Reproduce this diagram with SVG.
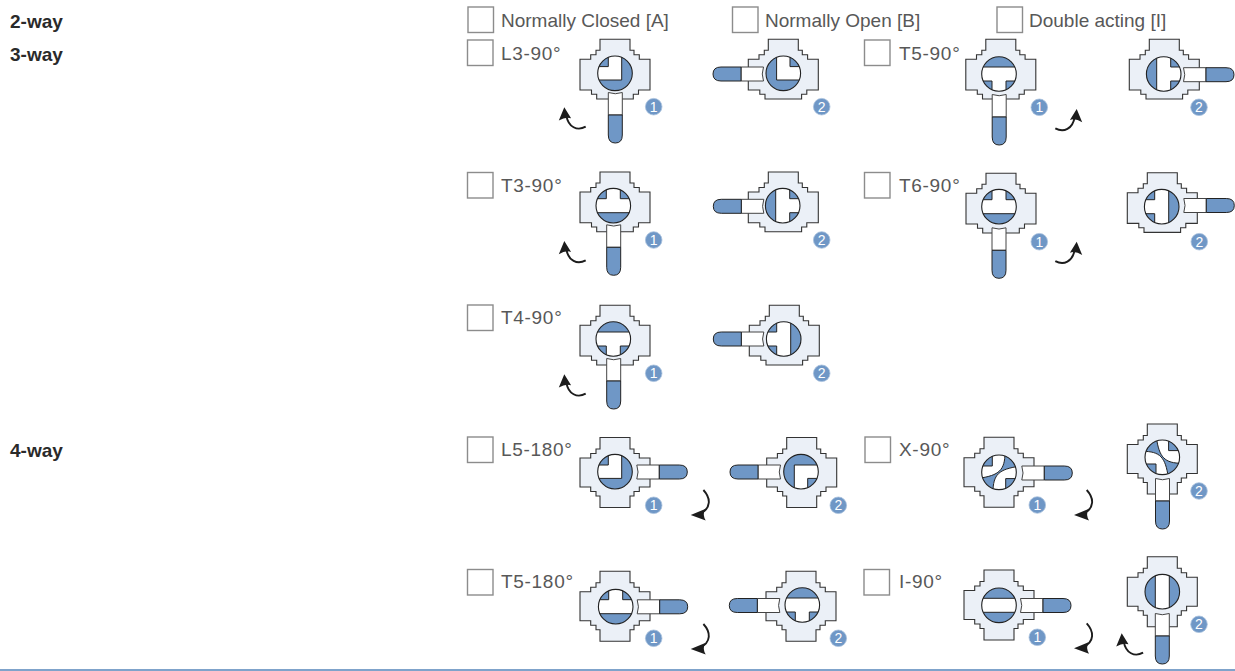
<svg xmlns="http://www.w3.org/2000/svg" xmlns:xlink="http://www.w3.org/1999/xlink" width="1235" height="671" viewBox="0 0 1235 671">
<style>
text{font-family:"Liberation Sans",Arial,sans-serif}
.h{font-size:19px;font-weight:bold;fill:#2a2a2a}
.l{font-size:19px;fill:#585858}
.s{font-size:19px;fill:#585858;letter-spacing:.7px}
.c{fill:#fff;stroke:#8c8c8c;stroke-width:1.4}
.body{fill:#ebf0f7;stroke:#333;stroke-width:1.1}
.blue{fill:#6f97c6}
.ln{stroke:#222;stroke-width:1.1;fill:none}
.wh{fill:#fff;stroke:#222;stroke-width:1}
.bd{fill:#6f97c6;stroke:#a9c1dd;stroke-width:.8}
.n{font-size:14px;fill:#fff;text-anchor:middle}
.ar{fill:none;stroke:#1c1c1c;stroke-width:1.9}
.hd{fill:#1c1c1c}
</style>
<defs>
<clipPath id="cp"><circle r="17.3"/></clipPath>
<path id="b4" class="body" d="M-15,-35V-23.5H-19V-19H-24.3V-14.5H-35V14.5H-24.3V19H-19V23.5H-15V35H15V23.5H19V19H24.3V14.5H35V-14.5H24.3V-19H19V-23.5H15V-35Z"/>
<path id="b3" class="body" d="M-15,-34V-23H-19V-18.5H-24.3V-14H-35V16.7H-23.5V21H-18.3V25.7H18.3V21H23.5V16.7H35V-14H24.3V-18.5H19V-23H15V-34Z"/>
<g id="hnd">
<path fill="#fff" stroke="#444" stroke-width="1" d="M-7,19.5A21,21 0 0 0 7,19.5V42H-7Z"/>
<path class="blue" stroke="#222" stroke-width="1" d="M-7,42V62Q-7,70 0,70Q7,70 7,62V42Z"/>
</g>
<g id="bL"><circle r="17.3" class="blue"/><g clip-path="url(#cp)"><path class="wh" d="M-20,-6.7H-6.7V-20H6.7V6.7H-20Z"/></g><circle r="17.3" class="ln"/></g>
<g id="bT"><circle r="17.3" class="blue"/><g clip-path="url(#cp)"><path class="wh" d="M-20,-7H20V7H7V20H-7V7H-20Z"/></g><circle r="17.3" class="ln"/></g>
<g id="bI"><circle r="17.3" class="blue"/><g clip-path="url(#cp)"><rect class="wh" x="-20" y="-7" width="40" height="14"/></g><circle r="17.3" class="ln"/></g>
<g id="bX"><circle r="17.3" class="blue"/><g clip-path="url(#cp)"><path class="wh" d="M-20,-6.3H-6.7V-20H6C6,-2 0,3 -20,6Z"/><path class="wh" d="M20,6.3H6.7V20H-6C-6,2 0,-3 20,-6Z"/></g><circle r="17.3" class="ln"/></g>
<g id="aU"><path class="ar" d="M21.4,19.4C13,24 4,20 2,8"/><path class="hd" d="M0,0L6.8,11Q1.5,9 -5.5,13.2Z"/></g>
<g id="aD"><path class="ar" d="M12.7,-25C20,-17 21,-7 9,-1"/><path class="hd" d="M0,0L14.5,-6Q11.5,-0.5 15,5.5Z"/></g>
</defs>
<g id="labels">
<text class="h" x="10" y="27.5">2-way</text>
<text class="h" x="10" y="61">3-way</text>
<text class="h" x="10" y="457">4-way</text>
<rect class="c" x="468" y="7" width="25.5" height="25.5"/><text class="l" x="501" y="27">Normally Closed [A]</text>
<rect class="c" x="732.5" y="7" width="25.5" height="25.5"/><text class="l" x="765" y="27">Normally Open [B]</text>
<rect class="c" x="997" y="7" width="25.5" height="25.5"/><text class="l" x="1029" y="27">Double acting [I]</text>
</g>
<g id="L3-90"><rect class="c" x="467.5" y="40" width="25.5" height="25.5"/><text class="s" x="501" y="60">L3-90°</text>
<use href="#b3" transform="translate(615,73.3)"/><use href="#hnd" transform="translate(615.3,73)"/><use href="#bL" transform="translate(615,73.3)"/>
<circle class="bd" cx="653.7" cy="106.7" r="8.3"/><text class="n" x="653.7" y="111.5">1</text>
<use href="#b3" transform="translate(783.3,73.3)"/><use href="#hnd" transform="translate(783,74) rotate(90)"/><use href="#bL" transform="translate(783.3,73.3) rotate(90)"/>
<circle class="bd" cx="821.7" cy="106.7" r="8.3"/><text class="n" x="821.7" y="111.5">2</text></g>
<g id="T5-90"><rect class="c" x="864.5" y="40" width="25.5" height="25.5"/><text class="s" x="899" y="60">T5-90°</text>
<use href="#b3" transform="translate(1000.8,73.3)"/><use href="#hnd" transform="translate(999.2,75)"/><use href="#bT" transform="translate(999,74)"/>
<circle class="bd" cx="1039.3" cy="107.3" r="8.3"/><text class="n" x="1039.3" y="112.1">1</text>
<use href="#b3" transform="translate(1164.3,73.3)"/><use href="#hnd" transform="translate(1164,74.7) rotate(-90)"/><use href="#bT" transform="translate(1163.7,74) rotate(-90)"/>
<circle class="bd" cx="1199" cy="107.3" r="8.3"/><text class="n" x="1199" y="112.1">2</text></g>
<g id="T3-90"><rect class="c" x="467.5" y="172.5" width="25.5" height="25.5"/><text class="s" x="501" y="192">T3-90°</text>
<use href="#b3" transform="translate(615,206)"/><use href="#hnd" transform="translate(613.7,205.3)"/><use href="#bT" transform="translate(613.3,205.7) rotate(180)"/>
<circle class="bd" cx="653.7" cy="240" r="8.3"/><text class="n" x="653.7" y="244.8">1</text>
<use href="#b3" transform="translate(783.3,206)"/><use href="#hnd" transform="translate(783.3,206.3) rotate(90)"/><use href="#bT" transform="translate(782.7,205.7) rotate(-90)"/>
<circle class="bd" cx="821.7" cy="240" r="8.3"/><text class="n" x="821.7" y="244.8">2</text></g>
<g id="T6-90"><rect class="c" x="864.5" y="172.5" width="25.5" height="25.5"/><text class="s" x="899" y="192">T6-90°</text>
<use href="#b3" transform="translate(1001,207.3)"/><use href="#hnd" transform="translate(999,208.3)"/><use href="#bT" transform="translate(999,206.7) rotate(180)"/>
<circle class="bd" cx="1039.3" cy="241.7" r="8.3"/><text class="n" x="1039.3" y="246.5">1</text>
<use href="#b3" transform="translate(1162.3,206.7)"/><use href="#hnd" transform="translate(1164.3,205.5) rotate(-90)"/><use href="#bT" transform="translate(1161.7,206.7) rotate(90)"/>
<circle class="bd" cx="1199.3" cy="241.7" r="8.3"/><text class="n" x="1199.3" y="246.5">2</text></g>
<g id="T4-90"><rect class="c" x="467.5" y="305" width="25.5" height="25.5"/><text class="s" x="501" y="324">T4-90°</text>
<use href="#b3" transform="translate(615,339.3)"/><use href="#hnd" transform="translate(613.7,339)"/><use href="#bT" transform="translate(613.3,339)"/>
<circle class="bd" cx="653.7" cy="373.3" r="8.3"/><text class="n" x="653.7" y="378.1">1</text>
<use href="#b3" transform="translate(784.3,339.3)"/><use href="#hnd" transform="translate(783.3,339) rotate(90)"/><use href="#bT" transform="translate(783.7,339) rotate(90)"/>
<circle class="bd" cx="821.7" cy="373.3" r="8.3"/><text class="n" x="821.7" y="378.1">2</text></g>
<g id="L5-180"><rect class="c" x="467.5" y="437" width="25.5" height="25.5"/><text class="s" x="501" y="456">L5-180°</text>
<use href="#b4" transform="translate(615,472.5)"/><use href="#hnd" transform="translate(617.3,472) rotate(-90)"/><use href="#bL" transform="translate(615,471.7)"/>
<circle class="bd" cx="653.7" cy="505.3" r="8.3"/><text class="n" x="653.7" y="510.1">1</text>
<use href="#b4" transform="translate(801.7,472.5)"/><use href="#hnd" transform="translate(800,472) rotate(90)"/><use href="#bL" transform="translate(801,471.7) rotate(180)"/>
<circle class="bd" cx="838.3" cy="505.3" r="8.3"/><text class="n" x="838.3" y="510.1">2</text></g>
<g id="X-90"><rect class="c" x="865" y="437" width="25.5" height="25.5"/><text class="s" x="899" y="456">X-90°</text>
<use href="#b4" transform="translate(999,472.3)"/><use href="#hnd" transform="translate(1002.3,473) rotate(-90)"/><use href="#bX" transform="translate(999,472.3)"/>
<circle class="bd" cx="1037.3" cy="505" r="8.3"/><text class="n" x="1037.3" y="509.8">1</text>
<use href="#b4" transform="translate(1162.3,459)"/><use href="#hnd" transform="translate(1162.5,459)"/><use href="#bX" transform="translate(1162.3,457.3) rotate(90)"/>
<circle class="bd" cx="1199" cy="491" r="8.3"/><text class="n" x="1199" y="495.8">2</text></g>
<g id="T5-180"><rect class="c" x="467.5" y="569.5" width="25.5" height="25.5"/><text class="s" x="501" y="588">T5-180°</text>
<use href="#b4" transform="translate(615,606.3)"/><use href="#hnd" transform="translate(617.7,606.8) rotate(-90)"/><use href="#bT" transform="translate(615.7,606.7) rotate(180)"/>
<circle class="bd" cx="653.7" cy="638.3" r="8.3"/><text class="n" x="653.7" y="643.1">1</text>
<use href="#b4" transform="translate(801,606.3)"/><use href="#hnd" transform="translate(799.3,605.5) rotate(90)"/><use href="#bT" transform="translate(802.3,605)"/>
<circle class="bd" cx="838.3" cy="638.3" r="8.3"/><text class="n" x="838.3" y="643.1">2</text></g>
<g id="I-90"><rect class="c" x="864" y="569.5" width="25.5" height="25.5"/><text class="s" x="899" y="588">I-90°</text>
<use href="#b4" transform="translate(999,605)"/><use href="#hnd" transform="translate(1001,605.5) rotate(-90)"/><use href="#bI" transform="translate(999,605.3)"/>
<circle class="bd" cx="1037.3" cy="637.3" r="8.3"/><text class="n" x="1037.3" y="642.1">1</text>
<use href="#b4" transform="translate(1162.3,591.7)"/><use href="#hnd" transform="translate(1162.3,594)"/><use href="#bI" transform="translate(1162.3,591.7) rotate(90)"/>
<circle class="bd" cx="1199" cy="624.3" r="8.3"/><text class="n" x="1199" y="629.1">2</text></g>
<g id="connectors">
<use href="#aU" transform="translate(564.3,107.3)"/>
<use href="#aU" transform="translate(564.3,241)"/>
<use href="#aU" transform="translate(564.3,374.3)"/>
<use href="#aU" transform="translate(1121.7,633.3)"/>
<use href="#aU" transform="translate(1076.7,109) scale(-1,1)"/>
<use href="#aU" transform="translate(1076.7,241.7) scale(-1,1)"/>
<use href="#aD" transform="translate(690.7,515)"/>
<use href="#aD" transform="translate(690.7,649)"/>
<use href="#aD" transform="translate(1074,515)"/>
<use href="#aD" transform="translate(1074,648.3)"/>
</g>
<rect x="0" y="669" width="1235" height="2" fill="#7fa3cb"/>
</svg>
